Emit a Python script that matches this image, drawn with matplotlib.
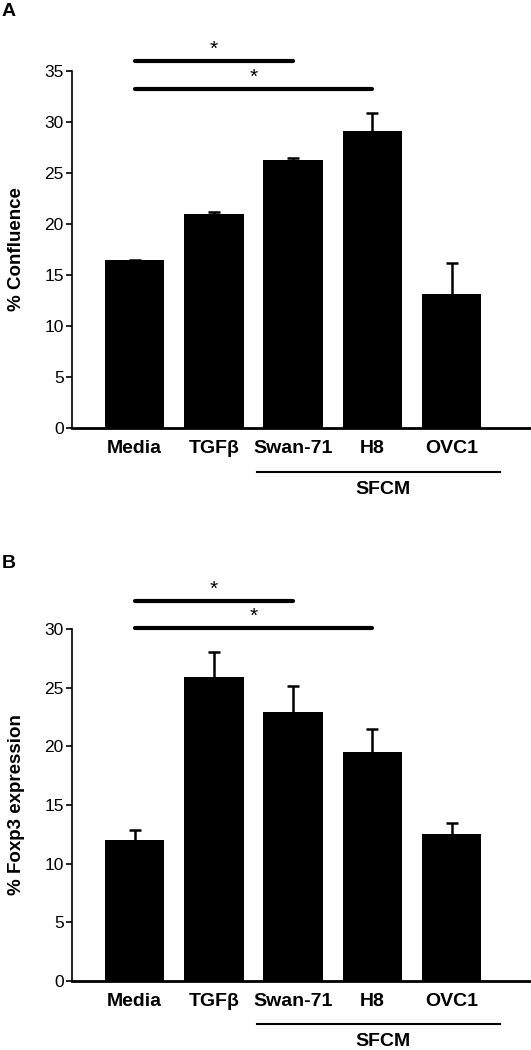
import matplotlib
matplotlib.use('Agg')
import matplotlib.pyplot as plt
import numpy as np

plt.rcParams['font.family'] = ['Liberation Sans', 'DejaVu Sans']

groups = ['Media', 'TGF\u03b2', 'Swan-71', 'H8', 'OVC1']

conf_mean = [16.5, 21.0, 26.3, 29.1, 13.1]
conf_err = [0.0, 0.2, 0.2, 1.8, 3.1]
conf_sig = [(0, 2, 36.0), (0, 3, 33.2)]

foxp3_mean = [12.0, 25.9, 22.9, 19.5, 12.5]
foxp3_err = [0.9, 2.1, 2.2, 2.0, 1.0]
foxp3_sig = [(0, 2, 32.4), (0, 3, 30.05)]

W, H = 531, 1050
fig = plt.figure(figsize=(W / 100, H / 100), dpi=100)


def panel(rect, means, errs, sig, ymax, ylabel, letter, letter_y, sfcm_y):
  ax = fig.add_axes(rect)
  x = np.arange(len(groups))
  ax.bar(x, means, width=0.75, color='black', zorder=2)
  _, caps, _ = ax.errorbar(x, means, yerr=[np.zeros(len(errs)), errs], fmt='none',
                           ecolor='black', elinewidth=1.8, capsize=4, capthick=1.8,
                           zorder=1)
  caps[0].set_visible(False)  # no lower caps
  ax.set_xlim(-0.79, 5.0)
  ax.set_ylim(0, ymax)
  ax.set_yticks(np.arange(0, ymax + 1, 5))
  ax.tick_params(axis='y', direction='out', length=4, width=1.2, labelsize=12.5, pad=2)
  ax.tick_params(axis='x', length=0, pad=9)
  ax.set_xticks(x)
  ax.set_xticklabels(groups, fontsize=14, fontweight='bold')
  for s in ['top', 'right']:
    ax.spines[s].set_visible(False)
  ax.spines['left'].set_linewidth(1.2)
  ax.spines['bottom'].set_linewidth(2)
  ax.set_ylabel(ylabel, fontsize=13.5, fontweight='bold')
  ax.yaxis.set_label_coords(-0.102, 0.5)

  # significance bars
  for a, b, y in sig:
    ax.plot([a, b], [y, y], color='black', lw=3, solid_capstyle='round', clip_on=False)
    ax.text((a + b) / 2, y + ymax * 0.006, '*', ha='center', va='bottom',
            fontsize=15, clip_on=False)

  # SFCM bracket underline
  fig.add_artist(plt.Line2D([257 / W, 500 / W], [1 - sfcm_y / H] * 2,
                            color='black', lw=1.5))
  fig.text(383 / W, 1 - (sfcm_y + 17) / H, 'SFCM', ha='center', va='center',
           fontsize=14, fontweight='bold')
  fig.text(2 / W, 1 - letter_y / H, letter, ha='left', va='center',
           fontsize=14, fontweight='bold')
  return ax


panel([72 / W, 1 - 428 / H, 1 - 72 / W, (428 - 71) / H], conf_mean, conf_err,
      conf_sig, 35, '% Confluence', 'A', 12, 472)
panel([72 / W, 1 - 981 / H, 1 - 72 / W, (981 - 629) / H], foxp3_mean, foxp3_err,
      foxp3_sig, 30, '% Foxp3 expression', 'B', 564, 1024)

fig.savefig('out.png', dpi=100)
